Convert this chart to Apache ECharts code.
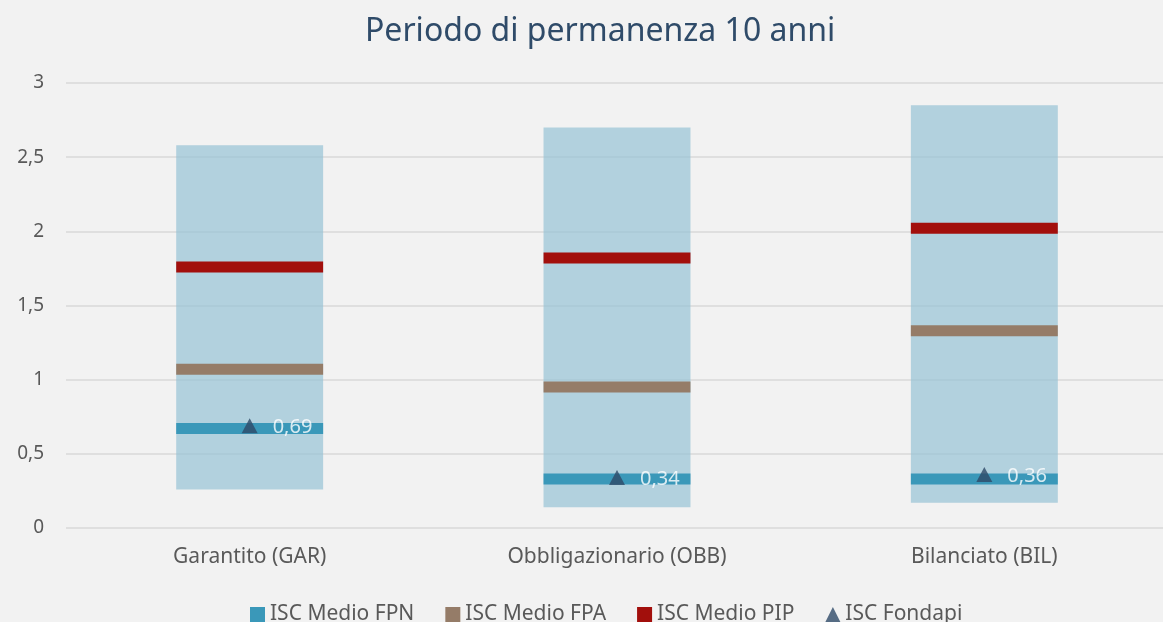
<!DOCTYPE html>
<html lang="it">
<head>
    <meta charset="UTF-8">
    <title>Periodo di permanenza 10 anni</title>
    <style>
        html, body { margin: 0; padding: 0; background: #f2f2f2; }
    </style>
</head>
<body>
    <div id="chart" style="width:1163px; height:622px"></div>

    <script src="https://cdn.jsdelivr.net/npm/echarts@6/dist/echarts.min.js"></script>
    <script>
        // categorie e valori
        const categories = ['Garantito (GAR)', 'Obbligazionario (OBB)', 'Bilanciato (BIL)'];
        const rangeMin = [0.26, 0.14, 0.17];
        const rangeMax = [2.58, 2.70, 2.85];
        const iscFpn = [0.67, 0.33, 0.33];
        const iscFpa = [1.07, 0.95, 1.33];
        const iscPip = [1.76, 1.82, 2.02];
        const iscFondapi = [0.69, 0.34, 0.36];

        const font = '"Noto Sans", "Open Sans", sans-serif';
        const comma = v => String(v).replace('.', ',');

        // rettangolo min-max
        const rangeItem = (params, api) => {
            const lo = api.coord([api.value(0), api.value(1)]);
            const hi = api.coord([api.value(0), api.value(2)]);
            const w = api.size([1, 0])[0] * 0.4;
            return {
                type: 'rect',
                shape: { x: lo[0] - w / 2, y: hi[1], width: w, height: lo[1] - hi[1] },
                style: { fill: 'rgba(152,196,213,0.72)' }
            };
        };

        // trattino orizzontale per i valori medi
        const dashItem = color => (params, api) => {
            const p = api.coord([api.value(0), api.value(1)]);
            const w = api.size([1, 0])[0] * 0.4;
            return {
                type: 'rect',
                shape: { x: p[0] - w / 2, y: p[1] - 5.5, width: w, height: 11 },
                style: { fill: color }
            };
        };

        const dashSeries = (name, values, color) => ({
            name: name,
            type: 'custom',
            renderItem: dashItem(color),
            itemStyle: { color: color },
            encode: { x: 0, y: 1 },
            data: values.map((v, i) => [i, v]),
            z: 3
        });

        const chart = echarts.init(document.getElementById('chart'));
        chart.setOption({
            backgroundColor: '#f2f2f2',
            animation: false,
            title: {
                text: 'Periodo di permanenza 10 anni',
                left: 360,
                top: 11,
                textStyle: { color: '#2f4b69', fontSize: 32, fontWeight: 'normal', fontFamily: font }
            },
            legend: {
                top: 599,
                left: 245,
                itemWidth: 15,
                itemHeight: 15,
                itemGap: 31,
                textStyle: { color: '#595959', fontSize: 21, fontFamily: font },
                data: [
                    { name: 'ISC Medio FPN', icon: 'rect' },
                    { name: 'ISC Medio FPA', icon: 'rect' },
                    { name: 'ISC Medio PIP', icon: 'rect' },
                    { name: 'ISC Fondapi', icon: 'triangle' }
                ]
            },
            grid: { left: 66, width: 1102, top: 83, bottom: 94, outerBoundsMode: 'none' },
            xAxis: {
                type: 'category',
                data: categories,
                axisLine: { show: false },
                axisTick: { show: false },
                axisLabel: { color: '#595959', fontSize: 21, fontFamily: font, margin: 19 }
            },
            yAxis: {
                type: 'value',
                min: 0,
                max: 3,
                interval: 0.5,
                axisLine: { show: false },
                axisTick: { show: false },
                axisLabel: { color: '#595959', fontSize: 19, fontFamily: font, margin: 22, formatter: comma },
                splitLine: { lineStyle: { color: '#d9d9d9', width: 1.5 } }
            },
            series: [
                {
                    name: 'Intervallo',
                    type: 'custom',
                    renderItem: rangeItem,
                    encode: { x: 0, y: [1, 2] },
                    data: rangeMin.map((v, i) => [i, v, rangeMax[i]]),
                    silent: true,
                    z: 2
                },
                dashSeries('ISC Medio FPN', iscFpn, '#3a98b9'),
                dashSeries('ISC Medio FPA', iscFpa, '#957c68'),
                dashSeries('ISC Medio PIP', iscPip, '#a20f0c'),
                {
                    name: 'ISC Fondapi',
                    type: 'scatter',
                    symbol: 'triangle',
                    symbolSize: [16, 15],
                    itemStyle: { color: '#2e4a68' },
                    data: iscFondapi.map((v, i) => [i, v]),
                    z: 4,
                    label: {
                        show: true,
                        position: 'right',
                        distance: 15,
                        color: '#ffffff',
                        fontSize: 20,
                        fontFamily: font,
                        offset: [0, 2],
                        formatter: p => comma(p.value[1])
                    }
                }
            ]
        });
    </script>
</body>
</html>
